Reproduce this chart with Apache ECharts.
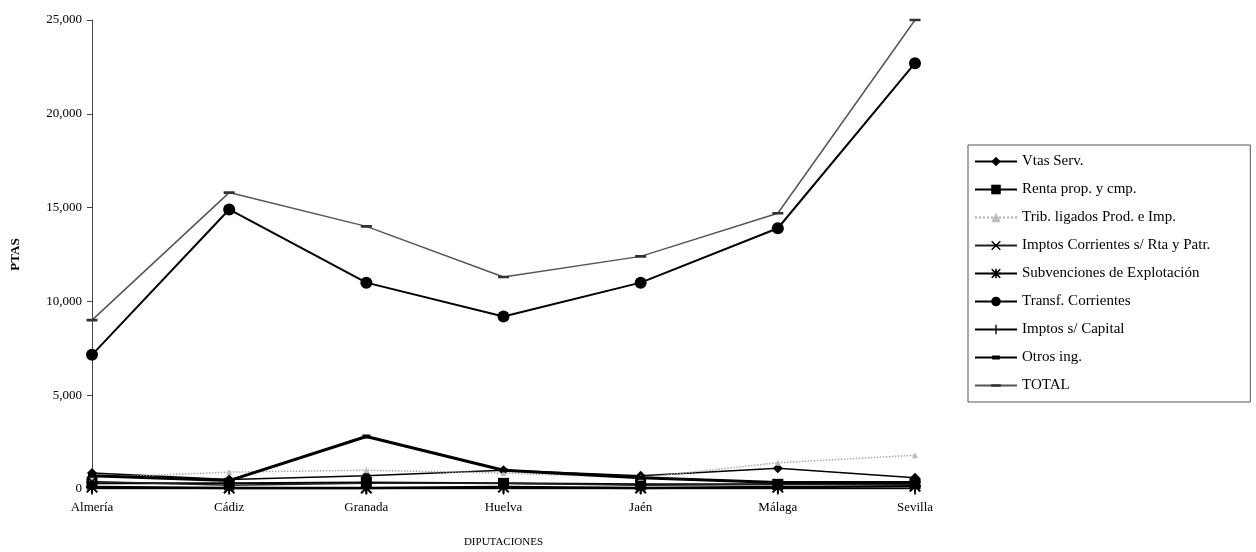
<!DOCTYPE html>
<html><head><meta charset="utf-8">
<script src="https://cdn.jsdelivr.net/npm/echarts@6/dist/echarts.min.js"></script>
<style>html,body{margin:0;padding:0;background:#fff}#c{width:1256px;height:552px}</style>
</head><body><div id="c"></div>
<script>
const categories = ['Almería','Cádiz','Granada','Huelva','Jaén','Málaga','Sevilla'];
const yTicks = [0, 5000, 10000, 15000, 20000, 25000];
const vtasServ   = [850, 500, 700, 1000, 700, 1100, 600];
const rentaProp  = [300, 300, 350, 300, 250, 250, 300];
const tribLig    = [600, 900, 1000, 850, 600, 1400, 1800];
const imptosCorr = [400, 200, 300, 300, 200, 250, 250];
const subvExpl   = [100, 50, 50, 100, 50, 100, 150];
const transfCorr = [7150, 14900, 11000, 9200, 11000, 13900, 22700];
const imptosCap  = [20, 20, 20, 20, 20, 20, 20];
const otrosIng   = [700, 450, 2800, 1000, 600, 350, 350];
const total      = [9000, 15800, 14000, 11300, 12400, 14700, 25000];

const serif = '"Liberation Serif", "DejaVu Serif", serif';
const BOX = ' M0,0L0.01,0L0.01,0.01Z M9.99,9.99L10,9.99L10,10Z';
const X_PATH = 'path://M0,1L1,0L5,4L9,0L10,1L6,5L10,9L9,10L5,6L1,10L0,9L4,5Z';
const STAR_PATH = 'path://M4.2,0L5.8,0L5.8,4.2L10,4.2L10,5.8L5.8,5.8L5.8,10L4.2,10L4.2,5.8L0,5.8L0,4.2L4.2,4.2Z M0,1.2L1.2,0L5,3.8L8.8,0L10,1.2L6.2,5L10,8.8L8.8,10L5,6.2L1.2,10L0,8.8L3.8,5Z';
const BAR_PATH = 'path://M4.3,0L5.7,0L5.7,10L4.3,10Z' + BOX;
const DASH_PATH = 'path://M0,3.8L10,3.8L10,6.2L0,6.2Z' + BOX;
const DASH_THICK = 'path://M1,3L9,3L9,7L1,7Z' + BOX;
function s(name, data, opt) {
  return Object.assign({
    name, type: 'line', data, symbolSize: 8, showSymbol: true,
    lineStyle: {color: '#000', width: 1.5}, itemStyle: {color: '#000'},
    animation: false, z: 2
  }, opt);
}
const series = [
  s('Vtas Serv.', vtasServ, {symbol: 'diamond', symbolSize: 10}),
  s('Renta prop. y cmp.', rentaProp, {symbol: 'rect', symbolSize: 11, lineStyle:{color:'#000', width:2}}),
  s('Trib. ligados Prod. e Imp.', tribLig, {symbol: 'triangle', symbolSize: 6, lineStyle:{color:'#aaa', width:1.5, type:'dotted'}, itemStyle:{color:'#bbb'}}),
  s('Imptos Corrientes s/ Rta y Patr.', imptosCorr, {symbol: X_PATH, symbolSize: 11, symbolKeepAspect: true, lineStyle:{color:'#222', width:1.5}}),
  s('Subvenciones de Explotación', subvExpl, {symbol: STAR_PATH, symbolSize: 12, symbolKeepAspect: true, lineStyle:{color:'#000', width:2.5}}),
  s('Transf. Corrientes', transfCorr, {symbol: 'circle', symbolSize: 12, lineStyle:{color:'#000', width:2}}),
  s('Imptos s/ Capital', imptosCap, {symbol: BAR_PATH, symbolSize: 12, symbolKeepAspect: true, lineStyle:{color:'#000', width:1.5}}),
  s('Otros ing.', otrosIng, {symbol: DASH_THICK, symbolSize: 10, symbolKeepAspect: true, lineStyle:{color:'#000', width:3}}),
  s('TOTAL', total, {symbol: DASH_PATH, symbolSize: 11, symbolKeepAspect: true, lineStyle:{color:'#555', width:1.5}, itemStyle:{color:'#333'}})
];

const chart = echarts.init(document.getElementById('c'), null, {renderer: 'canvas'});
chart.setOption({
  backgroundColor: '#fff',
  animation: false,
  textStyle: {fontFamily: serif, color: '#000'},
  grid: {left: 92, right: 341, top: 20, bottom: 63, containLabel: false, outerBoundsMode: 'none'},
  legend: {
    orient: 'vertical', left: 968, top: 145,
    padding: [9, 40, 9, 6], itemGap: 13, itemWidth: 42, itemHeight: 12,
    borderColor: '#555', borderWidth: 1,
    textStyle: {fontFamily: serif, fontSize: 15, color: '#000'},
    data: series.map(x => x.name)
  },
  xAxis: {
    type: 'category', data: categories, boundaryGap: false,
    axisLine: {show: false}, axisTick: {show: false},
    axisLabel: {fontFamily: serif, fontSize: 13, color: '#000', margin: 12},
    name: 'DIPUTACIONES', nameLocation: 'middle', nameGap: 48,
    nameTextStyle: {fontFamily: serif, fontSize: 11, color: '#000'}
  },
  yAxis: {
    type: 'value', min: 0, max: 25000, interval: 5000,
    axisLine: {show: true, lineStyle: {color: '#444', width: 1}},
    axisTick: {show: true, length: 5, lineStyle: {color: '#444'}},
    splitLine: {show: false},
    axisLabel: {fontFamily: serif, fontSize: 13, color: '#000', margin: 10,
      formatter: v => yTicks.includes(v) ? v.toLocaleString('en-US') : ''},
    name: 'PTAS', nameLocation: 'middle', nameGap: 70, nameRotate: 90,
    nameTextStyle: {fontFamily: serif, fontSize: 13, fontWeight: 'bold', color: '#000'}
  },
  series
});
</script></body></html>
